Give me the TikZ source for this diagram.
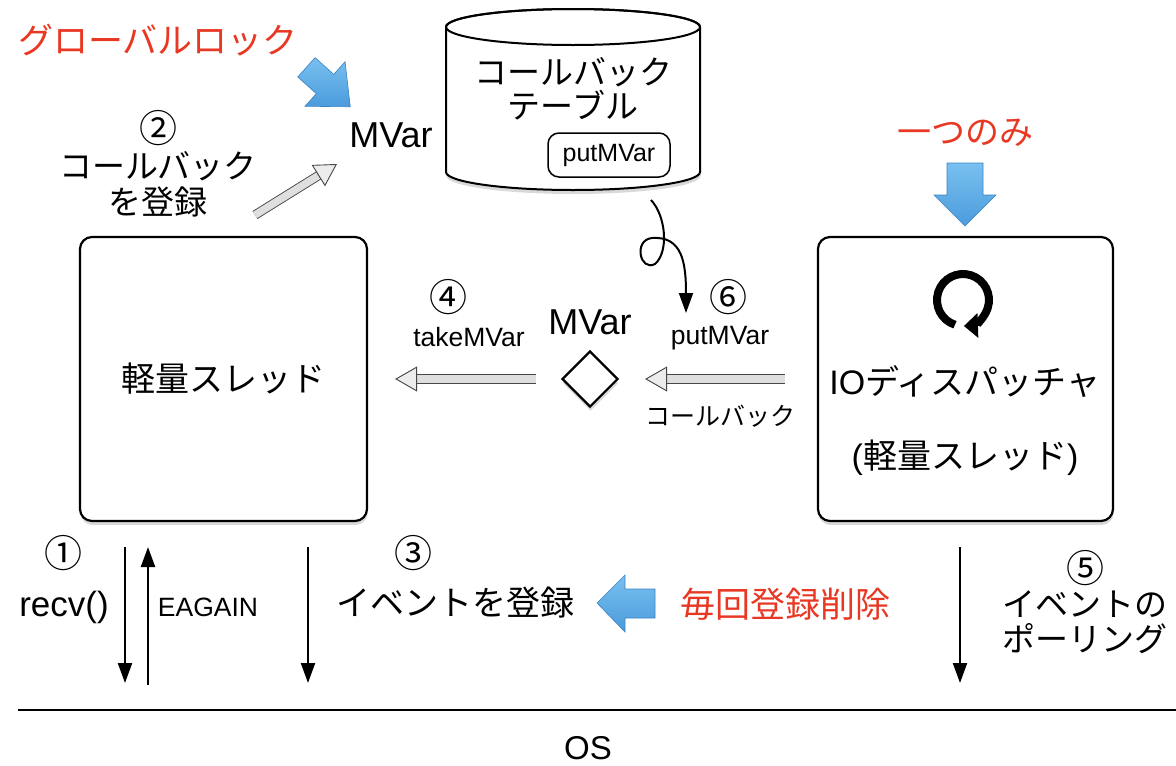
\documentclass[tikz,border=0pt]{standalone}
\usepackage{fontspec}
\setmainfont{Liberation Sans}
\newfontfamily\cjk{Noto Sans CJK JP}
\usetikzlibrary{arrows.meta,shapes.geometric,shadows,calc}
\definecolor{jred}{RGB}{232,56,36}
\definecolor{bluefill}{RGB}{120,192,240}
\definecolor{bluedark}{RGB}{75,155,220}
\definecolor{blueline}{RGB}{60,130,195}
\newcommand{\fs}[1]{\fontsize{#1}{#1}\selectfont}
\tikzset{
  x=1pt, y=1pt,
  shad/.style={drop shadow={shadow xshift=0.5pt, shadow yshift=-4pt, opacity=0.3}},
  box/.style={draw, line width=2.2pt, rounded corners=12pt, fill=white,
    minimum width=287pt, minimum height=284pt, shad},
  jp/.style={inner sep=0, font=\cjk\fs{34}},
  lat/.style={inner sep=0, font=\fs{36}},
  small/.style={inner sep=0, font=\fs{26.5}},
  circ/.style={inner sep=0, font=\cjk\fs{38}},
  redtxt/.style={jp, text=jred},
  blk/.style={line width=2.2pt, -{Triangle[length=20pt, width=14pt]}},
  grayarrow/.style={draw=gray!55!black, line width=0.9pt, double=gray!25,
    double distance=7.5pt, -{Triangle[length=22pt, width=25pt, fill=gray!15]}},
  bluearrow/.style={top color=bluefill, bottom color=bluedark, draw=blueline, line width=0.6pt},
}
\begin{document}
\begin{tikzpicture}
\useasboundingbox (0,0) rectangle (1176,-766);

% ---------- top left ----------
\node[redtxt, font=\cjk\fs{35}] (gl) at (158,-40) {グローバルロック};
\begin{scope}[shift={(325,-84)}, rotate=-42]
  \path[bluearrow] (-25,-13) -- (0,-13) -- (0,-30) -- (34,0) -- (0,30) -- (0,13) -- (-25,13) -- cycle;
\end{scope}
\node[lat] (mv1) at (391,-135) {MVar};
\node[circ] (n2) at (158,-128) {②};
\node[jp, font=\cjk\fs{33}, align=center] (reg) at (158,-184) {コールバック\\[3pt]を登録};
\coordinate (g2s) at (255,-215);
\coordinate (g2e) at (337,-164);
\draw[grayarrow] (g2s) -- (g2e);

% ---------- cylinder ----------
\filldraw[fill=white, line width=2pt, shad]
  (446,-27) -- (446,-172) arc[start angle=180, end angle=360, x radius=127, y radius=18]
  -- (700,-27) arc[start angle=0, end angle=180, x radius=127, y radius=18] -- cycle;
\draw[line width=2pt] (573,-27) ellipse[x radius=127, y radius=18];
\node[minimum width=254pt, minimum height=182pt, inner sep=0] (cyl) at (573,-99) {};
\node[jp, font=\cjk\fs{33}, align=center] (cbt) at (573,-89) {コールバック\\[1pt]テーブル};
\node[draw, line width=1.5pt, rounded corners=11pt, minimum width=122pt, minimum height=44pt,
  inner sep=0, font=\fs{25}] (pmv) at (609,-155) {putMVar};

% curly arrow
\coordinate (cs) at (651,-200);
\coordinate (ce) at (686,-313);
\draw[line width=2pt, -{Triangle[length=20pt, width=14pt]}]
  (cs) .. controls (666,-216) and (669,-252) .. (655,-264)
       .. controls (640,-272) and (633,-240) .. (652,-238)
       .. controls (682,-236) and (686,-262) .. (ce);

% ---------- right top ----------
\node[redtxt] (one) at (965,-133) {一つのみ};
\path[bluearrow] (947,-163) -- (983,-163) -- (983,-195) -- (996,-195) -- (965,-226)
  -- (934,-195) -- (947,-195) -- cycle;

% ---------- boxes ----------
\node[box, font=\cjk\fs{34}] (lt) at (223.5,-379) {軽量スレッド};
\node[box, minimum width=295pt] (rt) at (965.5,-379) {};
\draw[line width=8pt, -{Triangle[length=14pt, width=24pt]}]
  (963,-300) ++(252:26) arc[start angle=252, end angle=-88, radius=26];
\node[jp] (io) at (965,-382) {\fontspec{Liberation Sans}IO\cjk ディスパッチャ};
\node[jp] (io2) at (965,-458) {\fontspec{Liberation Sans}(\cjk 軽量スレッド\fontspec{Liberation Sans})};

% ---------- middle ----------
\node[lat] (mv2) at (590,-322) {MVar};
\node[diamond, draw, line width=2.2pt, fill=white, minimum width=56pt, minimum height=56pt,
  inner sep=0, shad] (dia) at (590,-379) {};
\node[circ] (n4) at (448,-297) {④};
\node[small] (tk) at (469,-337) {takeMVar};
\node[circ] (n6) at (728,-297) {⑥};
\node[small] (pm) at (720,-338) {putMVar};
\node[jp, font=\cjk\fs{25}] (cbk) at (720,-416) {コールバック};
\draw[grayarrow, shorten <=25pt, shorten >=27pt] (dia.west) -- (lt.east);
\draw[grayarrow, shorten <=32pt, shorten >=26pt] (rt.west) -- (dia.east);

% ---------- bottom ----------
\node[circ] (n1) at (64,-553) {①};
\node[lat, font=\fs{35}] (recv) at (64,-607) {recv()};
\node[small] (eag) at (208,-607) {EAGAIN};
\coordinate (b1s) at (125,-547); \coordinate (b1e) at (125,-683);
\coordinate (b2s) at (148,-685); \coordinate (b2e) at (148,-547);
\coordinate (b3s) at (308,-547); \coordinate (b3e) at (308,-683);
\coordinate (b5s) at (960,-547); \coordinate (b5e) at (960,-683);
\draw[blk] (b1s) -- (b1e);
\draw[blk] (b2s) -- (b2e);
\draw[blk] (b3s) -- (b3e);
\draw[blk] (b5s) -- (b5e);
\node[circ] (n3) at (413,-553) {③};
\node[jp] (ev) at (455,-603) {イベントを登録};
\path[bluearrow] (655,-589) -- (625,-589) -- (625,-575) -- (597,-603) -- (625,-632)
  -- (625,-618) -- (655,-618) -- cycle;
\node[redtxt, font=\cjk\fs{35}] (del) at (785,-604) {毎回登録削除};
\node[circ] (n5) at (1085,-568) {⑤};
\node[jp, font=\cjk\fs{33}, align=center] (poll) at (1085,-622) {イベントの\\[2pt]ポーリング};

\coordinate (osl) at (18,-710);
\coordinate (osr) at (1176,-710);
\draw[line width=2pt] (osl) -- (osr);
\node[lat, font=\fs{33}] (os) at (588,-748) {OS};
\end{tikzpicture}
\end{document}
